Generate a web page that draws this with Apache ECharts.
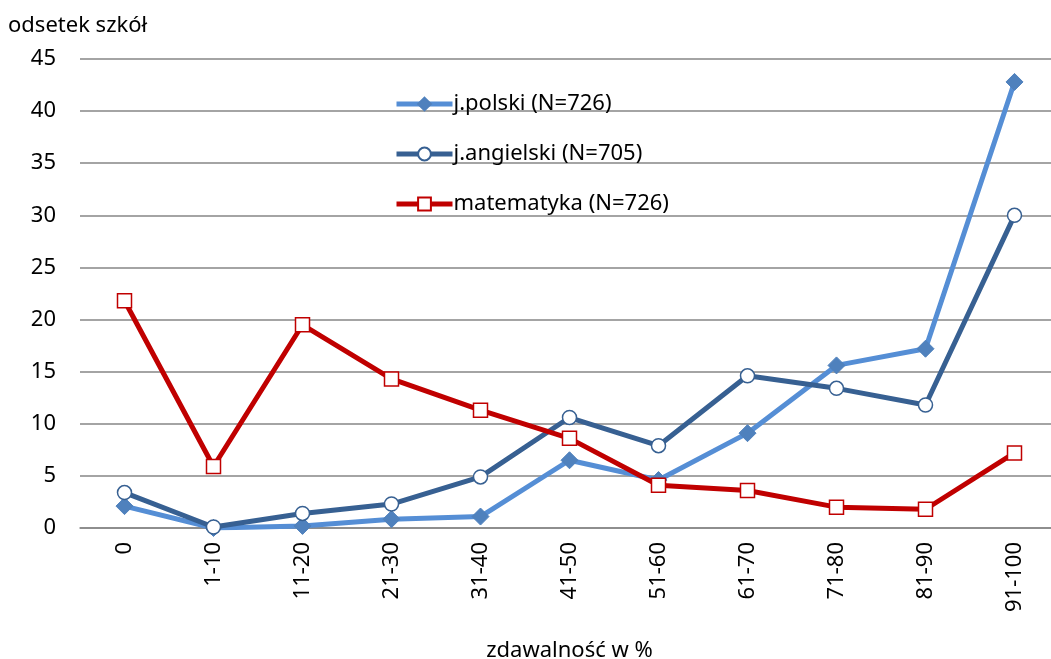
<!DOCTYPE html>
<html lang="pl">
<head>
    <meta charset="UTF-8">
    <title>zdawalność</title>
    <script src="https://cdn.jsdelivr.net/npm/echarts@6/dist/echarts.min.js"></script>
    <style>
        html, body { margin: 0; padding: 0; background: #fff; }
        #chart { width: 1051px; height: 659px; }
    </style>
</head>
<body>
    <div id="chart"></div>
    <script>
        // kategorie zdawalności
        var categories = ['0', '1-10', '11-20', '21-30', '31-40', '41-50', '51-60', '61-70', '71-80', '81-90', '91-100'];
        // odsetek szkół
        var polski = [2.1, 0, 0.2, 0.85, 1.1, 6.5, 4.6, 9.1, 15.6, 17.2, 42.8];
        var angielski = [3.4, 0.1, 1.4, 2.3, 4.9, 10.6, 7.9, 14.6, 13.4, 11.8, 30.0];
        var matematyka = [21.8, 5.9, 19.5, 14.3, 11.3, 8.6, 4.1, 3.6, 2.0, 1.8, 7.2];

        var font = '"Noto Sans", "Open Sans", sans-serif';
        var myChart = echarts.init(document.getElementById('chart'));

        var option = {
            backgroundColor: '#fff',
            animation: false,
            textStyle: { fontFamily: font },
            grid: { left: 80, width: 979, top: 59, bottom: 131, containLabel: false, outerBoundsMode: 'none' },
            legend: {
                orient: 'vertical',
                left: 389,
                top: 87,
                itemWidth: 56,
                itemHeight: 16,
                itemGap: 26,
                lineStyle: { width: 5 },
                textStyle: { fontSize: 22, lineHeight: 24, color: '#000', fontFamily: font, padding: [0, 0, 0, -4] },
                data: ['j.polski (N=726)', 'j.angielski (N=705)', 'matematyka (N=726)']
            },
            xAxis: {
                type: 'category',
                data: categories,
                boundaryGap: true,
                name: 'zdawalność w %',
                nameLocation: 'middle',
                nameGap: 112,
                nameTextStyle: { fontSize: 22, color: '#000' },
                axisLine: { lineStyle: { color: '#868686', width: 1.5 } },
                axisTick: { length: 8, lineStyle: { color: '#868686', width: 1.5 } },
                axisLabel: { rotate: 90, fontSize: 22, color: '#000', margin: 14 }
            },
            yAxis: {
                type: 'value',
                min: 0,
                max: 45,
                interval: 5,
                name: 'odsetek szkół',
                nameLocation: 'end',
                nameGap: 22,
                nameTextStyle: { fontSize: 22, color: '#000', align: 'left', padding: [0, 0, 0, -72] },
                axisLine: { show: false },
                axisTick: { show: false },
                axisLabel: { fontSize: 22, color: '#000', margin: 24 },
                splitLine: { lineStyle: { color: '#868686', width: 1.5 } }
            },
            series: [
                {
                    name: 'j.polski (N=726)',
                    type: 'line',
                    data: polski,
                    symbol: 'diamond',
                    symbolSize: 17,
                    z: 3,
                    lineStyle: { color: '#558ED5', width: 5 },
                    itemStyle: { color: '#4F81BD', borderColor: '#4F81BD', borderWidth: 1 }
                },
                {
                    name: 'j.angielski (N=705)',
                    type: 'line',
                    data: angielski,
                    symbol: 'circle',
                    symbolSize: 14,
                    z: 4,
                    lineStyle: { color: '#376092', width: 5 },
                    itemStyle: { color: '#fff', borderColor: '#376092', borderWidth: 1.5 }
                },
                {
                    name: 'matematyka (N=726)',
                    type: 'line',
                    data: matematyka,
                    symbol: 'rect',
                    symbolSize: 14,
                    z: 5,
                    lineStyle: { color: '#C00000', width: 5 },
                    itemStyle: { color: '#fff', borderColor: '#C00000', borderWidth: 1.5 }
                }
            ]
        };

        myChart.setOption(option);
    </script>
</body>
</html>
